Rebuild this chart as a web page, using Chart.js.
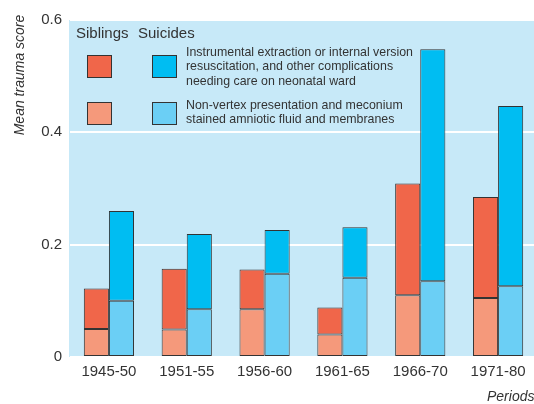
<!DOCTYPE html>
<html><head><meta charset="utf-8">
<script src="https://cdn.jsdelivr.net/npm/chart.js@4/dist/chart.umd.min.js"></script>
<style>html,body{margin:0;padding:0;background:#fff;overflow:hidden}#wrap{width:534px;height:404px;position:relative;overflow:hidden}</style>
</head><body><div id="wrap"><canvas id="c" width="537" height="404"></canvas></div>
<script>
const periods = ["1945-50","1951-55","1956-60","1961-65","1966-70","1971-80"];
const siblingsLower = [0.050,0.049,0.085,0.040,0.110,0.105];
const siblingsUpper = [0.072,0.108,0.071,0.048,0.199,0.180];
const suicidesLower = [0.100,0.085,0.148,0.141,0.135,0.126];
const suicidesUpper = [0.160,0.134,0.078,0.090,0.413,0.321];
const yTicks = [0,0.2,0.4,0.6];
const legendHeaders = ["Siblings","Suicides"];
const legendRow1 = ["Instrumental extraction or internal version","resuscitation, and other complications","needing care on neonatal ward"];
const legendRow2 = ["Non-vertex presentation and meconium","stained amniotic fluid and membranes"];
const yTitle = "Mean trauma score";
const xTitle = "Periods";

const C = {sibDark:"#F0664A", sibLight:"#F5997B", suiDark:"#00BDF2", suiLight:"#6BCFF5", bg:"#C7E9F8", edge:"#333", text:"#333"};
const FONT = "'Liberation Sans Narrow','Arial Narrow','Liberation Sans',sans-serif";

const bgPlugin = {
  id:'bg',
  beforeDraw(ch){
    const a = ch.chartArea, x = ch.ctx;
    x.save(); x.fillStyle = C.bg; x.fillRect(a.left-1, a.top, a.right-a.left+1, a.bottom-a.top); x.restore();
  },
  afterDraw(ch){
    const x = ch.ctx, a = ch.chartArea;
    x.save();
    x.fillStyle = C.text;
    x.font = "15px " + FONT;
    x.textBaseline = "middle"; x.textAlign = "left";
    x.fillText(legendHeaders[0], 76, 34);
    x.fillText(legendHeaders[1], 138, 34);
    const box = (bx,by,col)=>{x.fillStyle=col;x.fillRect(bx,by,25,23);x.strokeStyle=C.edge;x.lineWidth=1;x.strokeRect(bx+0.5,by+0.5,24,22);};
    box(87,55,C.sibDark); box(152,55,C.suiDark);
    box(87,102,C.sibLight); box(152,102,C.suiLight);
    x.fillStyle = C.text;
    x.font = "13.5px " + FONT;
    const sc = 227 / x.measureText(legendRow1[0]).width;
    const line = (t,px,py)=>{x.save(); x.translate(px,py); x.scale(sc,1); x.fillText(t,0,0); x.restore();};
    legendRow1.forEach((t,i)=>line(t,186,52+i*14.7));
    legendRow2.forEach((t,i)=>line(t,186,105+i*14.7));
    x.font = "italic 14px " + FONT;
    x.save(); x.translate(20,75); x.rotate(-Math.PI/2); x.textAlign="center"; x.fillText(yTitle,0,0); x.restore();
    x.textAlign="left"; x.fillText(xTitle,487,397);
    x.restore();
  }
};

const common = {borderColor:C.edge, borderWidth:1, borderSkipped:false, categoryPercentage:0.645, barPercentage:1};
new Chart(document.getElementById('c'), {
  type:'bar',
  data:{labels:periods, datasets:[
    {label:'Siblings lower', data:siblingsLower, backgroundColor:C.sibLight, stack:'sib', ...common},
    {label:'Siblings upper', data:siblingsUpper, backgroundColor:C.sibDark, stack:'sib', ...common},
    {label:'Suicides lower', data:suicidesLower, backgroundColor:C.suiLight, stack:'sui', ...common},
    {label:'Suicides upper', data:suicidesUpper, backgroundColor:C.suiDark, stack:'sui', ...common}
  ]},
  options:{
    responsive:false, animation:false,
    layout:{padding:{top:20,right:0,left:0,bottom:0}},
    plugins:{legend:{display:false}, tooltip:{enabled:false}},
    scales:{
      x:{stacked:true, grid:{display:false, drawTicks:false}, border:{display:false},
         ticks:{color:C.text, font:{family:FONT,size:15}, padding:6, maxRotation:0},
         afterFit(s){s.height=47;}},
      y:{stacked:true, min:0, max:0.6,
         afterBuildTicks(s){s.ticks = yTicks.map(v=>({value:v}));},
         grid:{color:'#ffffff', lineWidth:2, drawTicks:false}, border:{display:false},
         ticks:{color:C.text, font:{family:FONT,size:15}, padding:8, callback:v=>String(v)},
         afterFit(s){s.width=70;}}
    }
  },
  plugins:[bgPlugin]
});
</script></body></html>
